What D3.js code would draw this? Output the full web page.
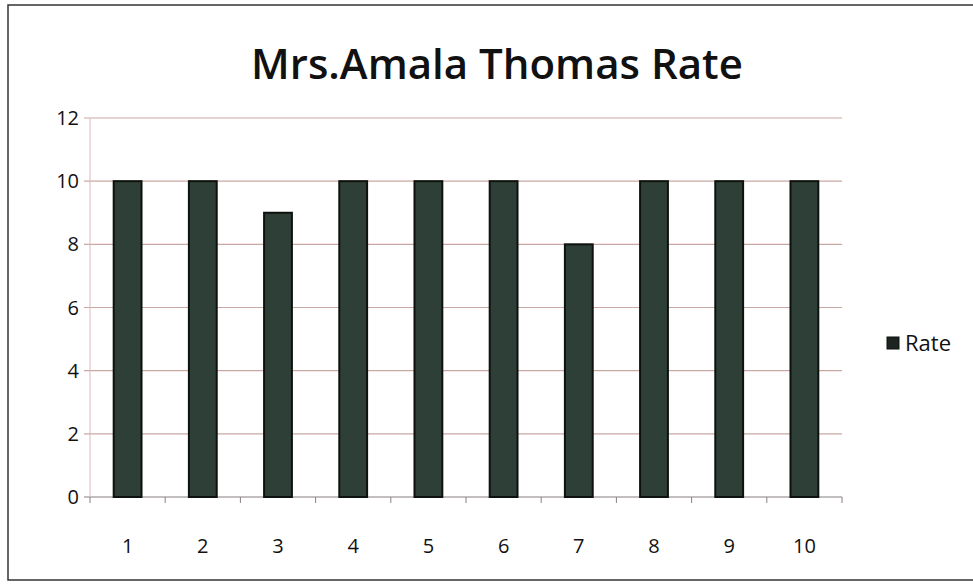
<!DOCTYPE html>
<html>
<head>
<meta charset="utf-8">
<script src="https://cdn.jsdelivr.net/npm/d3@7"></script>
<style>
  body { margin: 0; background: #fff; }
  text { font-family: "Open Sans", "Noto Sans", sans-serif; fill: #111; }
</style>
</head>
<body>
<div id="chart"></div>
<script>
// Chart data
var categories = ["1", "2", "3", "4", "5", "6", "7", "8", "9", "10"];
var rate = [10, 10, 9, 10, 10, 10, 8, 10, 10, 10];
var yTicks = [0, 2, 4, 6, 8, 10, 12];
var seriesName = "Rate";
var chartTitle = "Mrs.Amala Thomas Rate";

var width = 973, height = 588;
var plot = { left: 90, right: 842, top: 118, bottom: 497 };

var svg = d3.select("#chart")
    .append("svg")
    .attr("width", width)
    .attr("height", height);

// Chart frame
svg.append("rect")
    .attr("x", 8).attr("y", 5)
    .attr("width", 975).attr("height", 575)
    .attr("fill", "#fff")
    .attr("stroke", "#333")
    .attr("stroke-width", 1.5);

var x = d3.scaleBand()
    .domain(categories)
    .range([plot.left, plot.right])
    .paddingInner(0.63)
    .paddingOuter(0.315);

var y = d3.scaleLinear()
    .domain([0, 12])
    .range([plot.bottom, plot.top]);

// Grid lines
svg.append("g")
    .selectAll("line")
    .data(yTicks)
    .enter()
    .append("line")
    .attr("x1", plot.left - 6)
    .attr("x2", plot.right)
    .attr("y1", function (d) { return y(d); })
    .attr("y2", function (d) { return y(d); })
    .style("stroke", function (d) { return d === 0 ? "#8a8080" : "#c9a8a4"; })
    .style("stroke-width", 1.2);

// Y axis line
svg.append("line")
    .attr("x1", plot.left).attr("x2", plot.left)
    .attr("y1", plot.top).attr("y2", plot.bottom)
    .style("stroke", "#d7bcb8");

// X axis ticks
var xTickPos = d3.range(categories.length + 1).map(function (i) {
    return plot.left + i * (plot.right - plot.left) / categories.length;
});
svg.append("g")
    .selectAll("line")
    .data(xTickPos)
    .enter()
    .append("line")
    .attr("x1", function (d) { return d; })
    .attr("x2", function (d) { return d; })
    .attr("y1", plot.bottom)
    .attr("y2", plot.bottom + 6)
    .style("stroke", "#8a8080");

// Y tick labels
svg.append("g")
    .selectAll("text")
    .data(yTicks)
    .enter()
    .append("text")
    .attr("x", 79)
    .attr("y", function (d) { return y(d); })
    .attr("dy", "0.35em")
    .attr("text-anchor", "end")
    .style("font-size", "20px")
    .text(function (d) { return d; });

// X tick labels
svg.append("g")
    .selectAll("text")
    .data(categories)
    .enter()
    .append("text")
    .attr("x", function (d) { return x(d) + x.bandwidth() / 2; })
    .attr("y", 546)
    .attr("dy", "0.35em")
    .attr("text-anchor", "middle")
    .style("font-size", "20px")
    .text(function (d) { return d; });

// Bars
svg.append("g")
    .selectAll("rect")
    .data(rate)
    .enter()
    .append("rect")
    .attr("x", function (d, i) { return x(categories[i]); })
    .attr("y", function (d) { return y(d); })
    .attr("width", x.bandwidth())
    .attr("height", function (d) { return y(0) - y(d); })
    .style("fill", "#2e3f37")
    .style("stroke", "#0d120f")
    .style("stroke-width", 2);

// Title
svg.append("text")
    .attr("x", 497)
    .attr("y", 64)
    .attr("dy", "0.35em")
    .attr("text-anchor", "middle")
    .style("font-size", "42px")
    .style("font-weight", "600")
    .text(chartTitle);

// Legend
svg.append("rect")
    .attr("x", 887).attr("y", 337)
    .attr("width", 12).attr("height", 12)
    .style("fill", "#1d2420")
    .style("stroke", "#0d120f");
svg.append("text")
    .attr("x", 905)
    .attr("y", 343)
    .attr("dy", "0.35em")
    .style("font-size", "22px")
    .text(seriesName);
</script>
</body>
</html>
